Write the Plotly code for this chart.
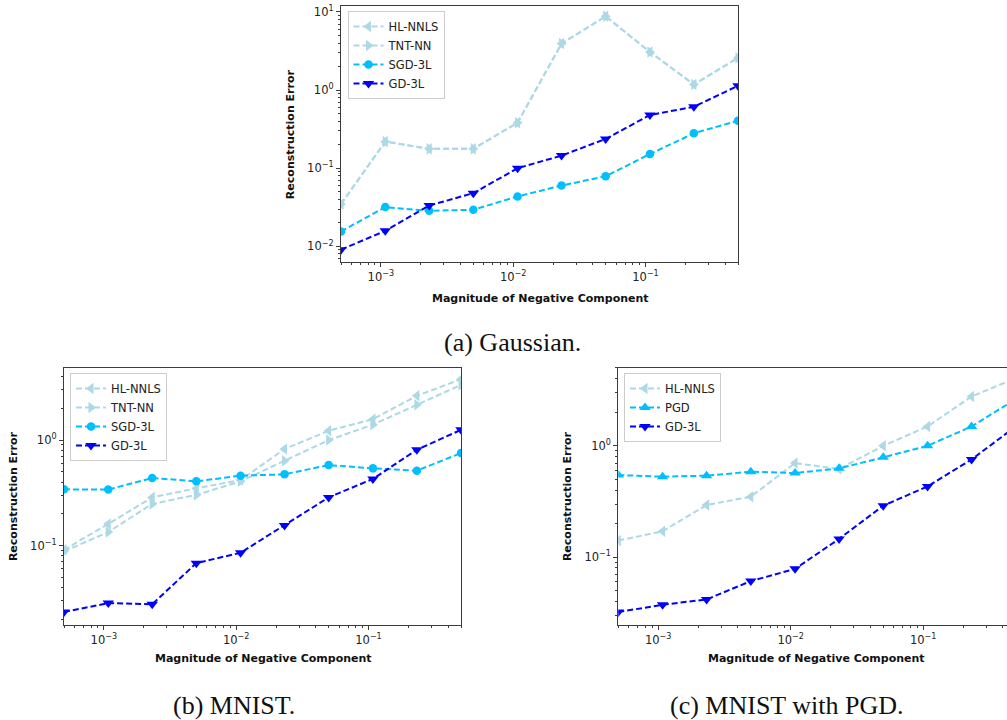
import plotly.graph_objects as go

# ---------------- data ----------------
neg_magnitude = [0.0005, 0.00108, 0.00232, 0.005, 0.0108, 0.0232, 0.05, 0.108, 0.232, 0.5]

# (a) Gaussian
gauss_hl_nnls = [0.0347, 0.219, 0.177, 0.177, 0.383, 3.94, 8.8, 3.08, 1.18, 2.59]
gauss_tnt_nn = [0.0347, 0.219, 0.177, 0.177, 0.383, 3.94, 8.8, 3.08, 1.18, 2.59]
gauss_sgd_3l = [0.0155, 0.0318, 0.0285, 0.0294, 0.0435, 0.060, 0.079, 0.152, 0.280, 0.406]
gauss_gd_3l = [0.00906, 0.0158, 0.0333, 0.048, 0.100, 0.145, 0.237, 0.48, 0.612, 1.135]

# (b) MNIST
mnist_hl_nnls = [0.091, 0.160, 0.286, 0.349, 0.418, 0.822, 1.225, 1.58, 2.63, 3.78]
mnist_tnt_nn = [0.088, 0.134, 0.248, 0.302, 0.406, 0.637, 1.0, 1.40, 2.16, 3.34]
mnist_sgd_3l = [0.341, 0.339, 0.437, 0.406, 0.46, 0.473, 0.58, 0.539, 0.513, 0.753]
mnist_gd_3l = [0.0234, 0.0284, 0.0277, 0.068, 0.0853, 0.155, 0.286, 0.428, 0.81, 1.25]

# (c) MNIST with PGD
pgd_hl_nnls = [0.141, 0.171, 0.294, 0.349, 0.70, 0.618, 1.0, 1.49, 2.77, 4.04]
pgd_pgd = [0.546, 0.528, 0.539, 0.585, 0.569, 0.627, 0.787, 1.0, 1.49, 2.62]
pgd_gd_3l = [0.0322, 0.0374, 0.0418, 0.061, 0.0786, 0.146, 0.290, 0.432, 0.754, 1.49]

x_tick_vals = [1e-3, 1e-2, 1e-1]
x_tick_text = ["10<sup>−3</sup>", "10<sup>−2</sup>", "10<sup>−1</sup>"]
ya_tick_vals = [1e-2, 1e-1, 1e0, 1e1]
ya_tick_text = ["10<sup>−2</sup>", "10<sup>−1</sup>", "10<sup>0</sup>", "10<sup>1</sup>"]
yb_tick_vals = [1e-1, 1e0]
yb_tick_text = ["10<sup>−1</sup>", "10<sup>0</sup>"]

captions = ["(a) Gaussian.", "(b) MNIST.", "(c) MNIST with PGD."]
x_title = "Magnitude of Negative Component"
y_title = "Reconstruction Error"

# ---------------- styles ----------------
LIGHT = "#add8e6"
SKY = "#00bfff"
BLUE = "#0000ff"
FRAME = "#3c3c3c"
W, H = 1007, 720
DASH = "6px,3px"

def px_x(p):
    return p / W

def px_y(p):
    return 1 - p / H

minor_vals = [k * 10.0 ** e for e in range(-5, 2) for k in range(2, 10)]

fig = go.Figure()

def add(xa, ya, name, yvals, color, symbol, legend):
    size = 8.5 if symbol == "circle" else 10
    fig.add_trace(go.Scatter(
        x=neg_magnitude, y=yvals, name=name, mode="lines+markers",
        xaxis=xa, yaxis=ya, legend=legend,
        line=dict(color=color, width=2, dash=DASH),
        marker=dict(color=color, symbol=symbol, size=size, line=dict(width=0)),
    ))

add("x", "y", "HL-NNLS", gauss_hl_nnls, LIGHT, "triangle-left", "legend")
add("x", "y", "TNT-NN", gauss_tnt_nn, LIGHT, "triangle-right", "legend")
add("x", "y", "SGD-3L", gauss_sgd_3l, SKY, "circle", "legend")
add("x", "y", "GD-3L", gauss_gd_3l, BLUE, "triangle-down", "legend")

add("x2", "y2", "HL-NNLS", mnist_hl_nnls, LIGHT, "triangle-left", "legend2")
add("x2", "y2", "TNT-NN", mnist_tnt_nn, LIGHT, "triangle-right", "legend2")
add("x2", "y2", "SGD-3L", mnist_sgd_3l, SKY, "circle", "legend2")
add("x2", "y2", "GD-3L", mnist_gd_3l, BLUE, "triangle-down", "legend2")

add("x3", "y3", "HL-NNLS", pgd_hl_nnls, LIGHT, "triangle-left", "legend3")
add("x3", "y3", "PGD", pgd_pgd, SKY, "triangle-up", "legend3")
add("x3", "y3", "GD-3L", pgd_gd_3l, BLUE, "triangle-down", "legend3")

tickfont = dict(family="DejaVu Sans", size=11.5, color="#222")

def xaxis(domain, rng, mirror=True):
    return dict(
        type="log", domain=domain, range=rng,
        tickvals=x_tick_vals, ticktext=x_tick_text,
        ticks="outside", ticklen=4, tickwidth=1, tickcolor=FRAME,
        showline=True, linecolor=FRAME, linewidth=1.2, mirror=mirror,
        showgrid=False, zeroline=False, tickfont=tickfont,
        minor=dict(tickvals=minor_vals, ticks="outside", ticklen=2, tickcolor=FRAME, showgrid=False),
    )

def yaxis(domain, rng, tv, tt, anchor, mirror=True):
    return dict(
        type="log", domain=domain, range=rng, anchor=anchor,
        tickvals=tv, ticktext=tt,
        ticks="outside", ticklen=4, tickwidth=1, tickcolor=FRAME,
        showline=True, linecolor=FRAME, linewidth=1.2, mirror=mirror,
        showgrid=False, zeroline=False, tickfont=tickfont,
        minor=dict(tickvals=minor_vals, ticks="outside", ticklen=2, tickcolor=FRAME, showgrid=False),
    )

a_x = [px_x(341), px_x(738)]
a_y = [px_y(261), px_y(4)]
b_x = [px_x(64), px_x(461)]
b_y = [px_y(625), px_y(366.7)]
c_x = [px_x(618.3), 1.0]
c_y = [px_y(625), px_y(366.7)]

legend_common = dict(
    xanchor="left", yanchor="top", bgcolor="rgba(255,255,255,0.85)",
    bordercolor="#cccccc", borderwidth=1,
    font=dict(family="DejaVu Sans", size=11.5, color="#222"),
    itemwidth=30, tracegroupgap=0,
)

fig.update_layout(
    width=W, height=H, margin=dict(l=0, r=0, t=0, b=0),
    paper_bgcolor="white", plot_bgcolor="white",
    xaxis=dict(xaxis(a_x, [-3.301, -0.301]), anchor="y"),
    yaxis=yaxis(a_y, [-2.204, 1.077], ya_tick_vals, ya_tick_text, "x"),
    xaxis2=dict(xaxis(b_x, [-3.301, -0.301]), anchor="y2"),
    yaxis2=yaxis(b_y, [-1.757, 0.687], yb_tick_vals, yb_tick_text, "x2"),
    xaxis3=dict(xaxis(c_x, [-3.301, -0.367]), anchor="y3"),
    yaxis3=yaxis(c_y, [-1.611, 0.701], yb_tick_vals, yb_tick_text, "x3", mirror=False),
    legend=dict(legend_common, x=px_x(347.5), y=px_y(9)),
    legend2=dict(legend_common, x=px_x(70), y=px_y(372)),
    legend3=dict(legend_common, x=px_x(624), y=px_y(372)),
    showlegend=True,
)

title_font = dict(family="DejaVu Sans", size=11, color="#111", weight="bold")
ann = []
for cx, cy in [(540, 297), (263, 658.5), (816.7, 658.5)]:
    ann.append(dict(text=x_title, x=px_x(cx), y=px_y(cy), xref="paper", yref="paper",
                    showarrow=False, xanchor="center", yanchor="middle", font=title_font))
for cx, cy in [(290, 132.5), (13.5, 496), (567.5, 496)]:
    ann.append(dict(text=y_title, x=px_x(cx), y=px_y(cy), xref="paper", yref="paper",
                    showarrow=False, xanchor="center", yanchor="middle", textangle=-90,
                    font=title_font))
cap_font = dict(family="Liberation Serif", size=26, color="#111")
for text, (cx, cy) in zip(captions, [(512, 341), (234, 705), (787, 705)]):
    ann.append(dict(text=text, x=px_x(cx), y=px_y(cy), xref="paper", yref="paper",
                    showarrow=False, xanchor="center", yanchor="middle", font=cap_font))
fig.update_layout(annotations=ann)

fig.write_html(
    "out.html",
    config={"displayModeBar": False},
    post_script="document.body.style.margin='0';document.body.style.padding='0';",
)
